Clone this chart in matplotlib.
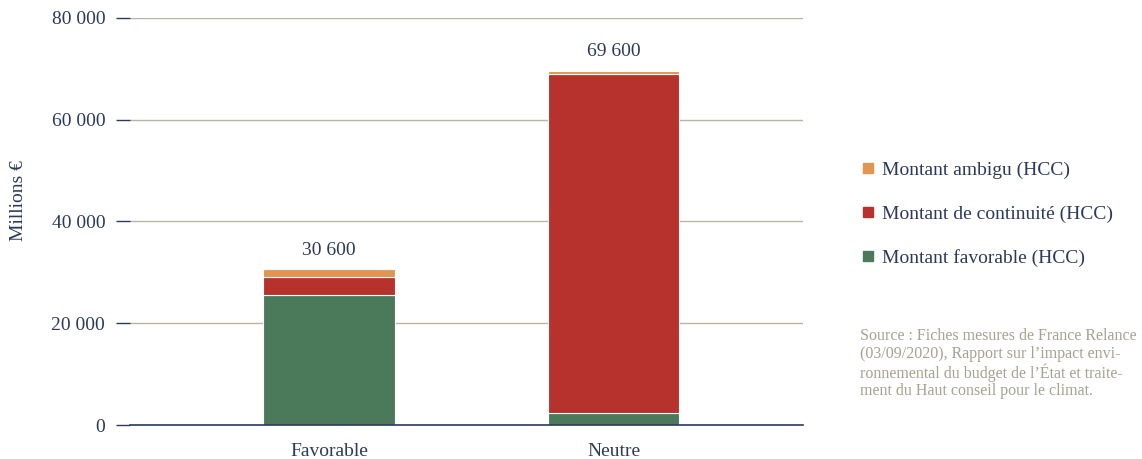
import matplotlib
matplotlib.use("Agg")
import matplotlib.pyplot as plt
from matplotlib.lines import Line2D

categories = ["Favorable", "Neutre"]
favorable = [25500, 2300]
continuite = [3500, 66600]
ambigu = [1600, 700]
totals = [30600, 69600]
total_labels = ["30 600", "69 600"]
yticks = [0, 20000, 40000, 60000, 80000]
ytick_labels = ["0", "20 000", "40 000", "60 000", "80 000"]
series_names = ["Montant ambigu (HCC)", "Montant de continuité (HCC)", "Montant favorable (HCC)"]

navy = "#2b3a5c"
c_green = "#4a7a5a"
c_red = "#b8322d"
c_orange = "#e3944f"
grid_c = "#b9b5a0"

plt.rcParams['font.family'] = ['Liberation Serif', 'DejaVu Serif']

fig = plt.figure(figsize=(11.42, 4.59), dpi=100)
ax = fig.add_axes([0.114, 0.074, 0.589, 0.887])

x = list(range(len(categories)))
w = 0.464
ax.bar(x, favorable, width=w, color=c_green, edgecolor="white", linewidth=0.8, zorder=3)
bottom2 = favorable
ax.bar(x, continuite, width=w, bottom=bottom2, color=c_red, edgecolor="white", linewidth=0.8, zorder=3)
bottom3 = [a + b for a, b in zip(favorable, continuite)]
ax.bar(x, ambigu, width=w, bottom=bottom3, color=c_orange, edgecolor="white", linewidth=0.8, zorder=3)

for xi, t, lab in zip(x, totals, total_labels):
    ax.text(xi, t + 2100, lab, ha="center", va="bottom", fontsize=14, color=navy)

ax.set_xlim(-0.70, 1.666)
ax.set_ylim(0, 80000)
ax.set_yticks(yticks)
ax.set_yticklabels(ytick_labels)
ax.set_xticks(x)
ax.set_xticklabels(categories)
ax.tick_params(axis="y", length=10, width=1, color=navy, labelcolor=navy, labelsize=14, pad=8)
ax.tick_params(axis="x", length=0, labelcolor=navy, labelsize=14, pad=13)
ax.yaxis.grid(True, color=grid_c, linewidth=1, zorder=0)
ax.set_axisbelow(True)
for s in ["top", "right", "left"]:
    ax.spines[s].set_visible(False)
ax.spines["bottom"].set_color(navy)
ax.spines["bottom"].set_linewidth(1.2)
ax.spines["bottom"].set_zorder(4)

fig.text(0.016, 0.562, "Millions €", rotation=90, ha="center", va="center", fontsize=14, color=navy)

handles = [Line2D([], [], marker="s", linestyle="none", markersize=7, color=c)
           for c in [c_orange, c_red, c_green]]
fig.legend(handles, series_names, loc="upper left", bbox_to_anchor=(0.736, 0.687),
           frameon=False, fontsize=14, labelcolor=navy, handletextpad=0.25,
           labelspacing=1.35, handlelength=1.0)

fig.text(0.753, 0.285, "Source : Fiches mesures de France Relance\n(03/09/2020), Rapport sur l’impact envi-\n"
         "ronnemental du budget de l’État et traite-\nment du Haut conseil pour le climat.",
         ha="left", va="top", fontsize=11.5, color="#a5a290", linespacing=1.12)

fig.savefig("out.png", dpi=100)
